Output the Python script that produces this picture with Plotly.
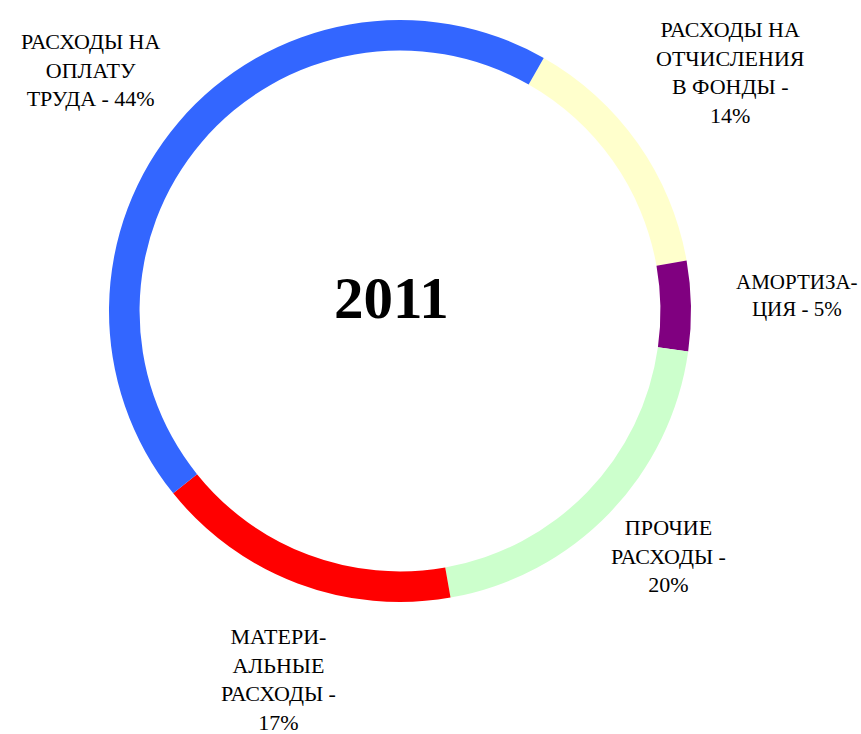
import plotly.graph_objects as go

W, H = 861, 734

categories = ["РАСХОДЫ НА<br>ОТЧИСЛЕНИЯ<br>В ФОНДЫ -<br>14%",
              "АМОРТИЗА-<br>ЦИЯ - 5%",
              "ПРОЧИЕ<br>РАСХОДЫ -<br>20%",
              "МАТЕРИ-<br>АЛЬНЫЕ<br>РАСХОДЫ -<br>17%",
              "РАСХОДЫ НА<br>ОПЛАТУ<br>ТРУДА - 44%"]
values = [14, 5, 20, 17, 44]
colors = ["#FFFFCC", "#800080", "#CCFFCC", "#FF0000", "#3366FF"]
center_title = "2011"

# label positions (pixel) and font sizes
label_pos = [(730, 72, 22), (797, 296, 21), (668, 556, 22), (278, 679, 22), (90, 70, 22)]

cx, cy, r = 400, 311, 291

fig = go.Figure(go.Pie(
    labels=[c.replace("<br>", " ") for c in categories],
    values=values,
    marker=dict(colors=colors, line=dict(width=0)),
    hole=0.895,
    sort=False,
    direction="clockwise",
    rotation=29.6,
    textinfo="none",
    hoverinfo="label+percent",
    showlegend=False,
    domain=dict(x=[(cx - r) / W, (cx + r) / W], y=[1 - (cy + r) / H, 1 - (cy - r) / H]),
))

ann = []
for text, (px, py, fs) in zip(categories, label_pos):
    ann.append(dict(x=px / W, y=1 - py / H, xref="paper", yref="paper", text=text,
                    showarrow=False, xanchor="center", yanchor="middle", align="center",
                    font=dict(family="Liberation Serif", size=fs, color="#000000")))
ann.append(dict(x=391 / W, y=1 - 298 / H, xref="paper", yref="paper",
                text="<b>" + center_title + "</b>", showarrow=False,
                xanchor="center", yanchor="middle",
                font=dict(family="Liberation Serif", size=59, color="#000000")))

fig.update_layout(width=W, height=H, margin=dict(l=0, r=0, t=0, b=0),
                  paper_bgcolor="white", plot_bgcolor="white", annotations=ann)
fig.write_html("out.html", config={"displayModeBar": False},
               post_script="document.body.style.margin='0';document.body.style.overflow='hidden';")
